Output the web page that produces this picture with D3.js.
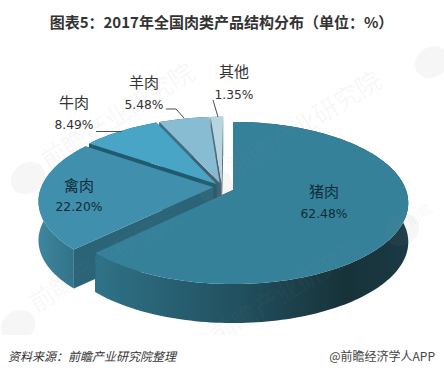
<!DOCTYPE html>
<meta charset="utf-8">
<style>
  html, body { margin: 0; background: #fff; }
  text { font-family: "DejaVu Sans", sans-serif; }
  .cjk { font-family: "Noto Sans CJK SC", sans-serif; }
</style>
<script src="https://d3js.org/d3.v7.min.js"></script>
<div id="chart"></div>
<script>
// Chart data
var categories = ["猪肉", "禽肉", "牛肉", "羊肉", "其他"];
var shares = [62.48, 22.20, 8.49, 5.48, 1.35];
var shareLabels = ["62.48%", "22.20%", "8.49%", "5.48%", "1.35%"];

var width = 444, height = 375;

var svg = d3.select("#chart").append("svg")
    .attr("width", width)
    .attr("height", height)
    .style("display", "block");

// Wall gradients
var defs = svg.append("defs");
function gradient(id, x1, x2, stops) {
  var g = defs.append("linearGradient")
      .attr("id", id)
      .attr("gradientUnits", "userSpaceOnUse")
      .attr("x1", x1).attr("x2", x2).attr("y1", 0).attr("y2", 0);
  stops.forEach(s => g.append("stop").attr("offset", s[0]).attr("stop-color", s[1]));
}
gradient("wall0", 100, 408, [[0, "#2f7186"], [0.45, "#21505f"], [0.8, "#173239"], [1, "#1a3a45"]]);
gradient("wall1", 40, 80, [[0, "#3d849c"], [1, "#2f7186"]]);

// the watermark stops where the footer band starts
defs.append("clipPath").attr("id", "wmClip")
  .append("rect").attr("width", width).attr("height", 335);

var topColor = d3.scaleOrdinal().domain(categories)
    .range(["#35819a", "#3f8fad", "#49a5c5", "#88bcd2", "#b7d4e1"]);
var wallColor = d3.scaleOrdinal().domain(categories)
    .range(["url(#wall0)", "url(#wall1)", "#1f5a70", "#3f6e80", "#55707f"]);
var innerWall = d3.scaleOrdinal().domain(categories)
    .range(["#1f4f5e", "#2b6478", "#1f5a70", "#3f5f70", "#4a6070"]);

// Tilted disc with some perspective, 3D pie look
var view = {x: 233, y: 190, a: 173, b: 79, k: 0.16, depth: 39};
var origin = [-0.065, 0.04], explode = 0.05;

function project(X, Y) {
  var w = 1 + view.k * Y;
  return [view.x + view.a * X / w, view.y - view.b * Y / w];
}

var pie = d3.pie().sort(null).value((d, i) => shares[i]);
var arcs = pie(categories);
var line = d3.line();

// Geometry of one slice: apex and rim on the disc
arcs.forEach(d => {
  var mid = (d.startAngle + d.endAngle) / 2;
  var ox = d.index === 0 ? 0 : origin[0] + explode * Math.sin(mid);
  var oy = d.index === 0 ? 0 : origin[1] + explode * Math.cos(mid);
  var n = Math.max(3, Math.round((d.endAngle - d.startAngle) * 40));
  d.apex = project(ox, oy);
  d.rim = d3.range(n + 1).map(i => {
    var t = d.startAngle + (d.endAngle - d.startAngle) * i / n;
    return project(ox + Math.sin(t), oy + Math.cos(t));
  });
});

var down = p => [p[0], p[1] + view.depth];
var slices = svg.append("g");

// back to front: 其他, 羊肉, 牛肉, 禽肉, 猪肉
arcs.slice().reverse().forEach(d => {
  var name = d.data, rim = d.rim, g = slices.append("g");
  var first = rim[0], last = rim[rim.length - 1];
  [first, last].forEach(p => {
    g.append("path")
        .attr("d", line([d.apex, p, down(p), down(d.apex)]) + "Z")
        .attr("fill", innerWall(name));
  });
  g.append("path")
      .attr("d", line(rim.concat(rim.map(down).reverse())) + "Z")
      .attr("fill", wallColor(name));
  g.append("path")
      .attr("d", line([d.apex].concat(rim)) + "Z")
      .attr("fill", topColor(name));
});

// Faint watermark
var marks = [
  [48, 170, 25, "前瞻产业研究院"], [235, 178, 25, "前瞻产业研究院"],
  [36, 313, 25, "前瞻产业研究院"], [218, 345, 25, "前瞻产业研究院"],
  [410, 226, 14, "前瞻"]
];
var blobs = [[28, 178], [215, 186], [18, 326], [200, 350], [402, 230], [432, 62]];
var wm = svg.append("g")
    .attr("clip-path", "url(#wmClip)")
    .attr("fill", "#8a8a8a").attr("fill-opacity", 0.08);
wm.selectAll("text").data(marks).join("text")
    .attr("class", "cjk")
    .attr("transform", d => `translate(${d[0]},${d[1]}) rotate(-32)`)
    .attr("font-size", d => d[2])
    .text(d => d[3]);
wm.selectAll("ellipse").data(blobs).join("ellipse")
    .attr("transform", d => `translate(${d[0]},${d[1]}) rotate(-32)`)
    .attr("rx", 18).attr("ry", 15);

// Leader lines
var leaders = [
  [[96, 131.5], [122, 131.5]],
  [[166, 109], [176, 109], [184, 118]],
  [[213, 100], [218, 117]]
];
svg.append("g").selectAll("path").data(leaders).join("path")
    .attr("d", d => line(d))
    .attr("fill", "none")
    .attr("stroke", "#44525a")
    .attr("stroke-width", 1);

// Slice labels, same order as categories
var labelAt = [[324, 197, 217.5], [79, 191, 210.5], [74, 108, 128.5], [144, 88, 108.5], [234, 77, 99]];
var inkColor = ["#0f2c36", "#0f2c36", "#333", "#333", "#333"];
var labels = svg.append("g").attr("text-anchor", "middle");
labels.selectAll("text.name").data(categories).join("text")
    .attr("class", "name cjk")
    .attr("x", (d, i) => labelAt[i][0])
    .attr("y", (d, i) => labelAt[i][1])
    .attr("font-size", 15)
    .attr("fill", (d, i) => inkColor[i])
    .text(d => d);
labels.selectAll("text.value").data(shareLabels).join("text")
    .attr("class", "value")
    .attr("x", (d, i) => labelAt[i][0])
    .attr("y", (d, i) => labelAt[i][2])
    .attr("font-size", 12.3)
    .attr("fill", (d, i) => inkColor[i])
    .text(d => d);

// Title and footer
svg.append("text").attr("class", "cjk")
    .attr("x", 221.5).attr("y", 28)
    .attr("text-anchor", "middle")
    .attr("font-size", 15).attr("font-weight", 700)
    .attr("fill", "#333")
    .text("图表5：2017年全国肉类产品结构分布（单位：%）");
svg.append("text").attr("class", "cjk")
    .attr("x", 8).attr("y", 361)
    .attr("font-size", 12).attr("font-style", "italic")
    .attr("fill", "#333")
    .text("资料来源：前瞻产业研究院整理");
svg.append("text").attr("class", "cjk")
    .attr("x", 435).attr("y", 361)
    .attr("text-anchor", "end")
    .attr("font-size", 12)
    .attr("fill", "#444")
    .text("@前瞻经济学人APP");
</script>
